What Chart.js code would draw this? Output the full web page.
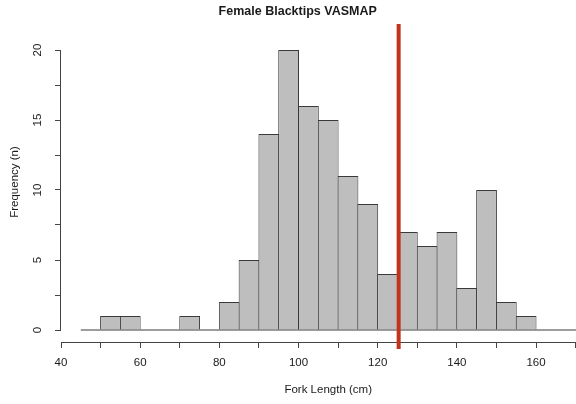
<!DOCTYPE html>
<html><head><meta charset="utf-8">
<script src="https://cdn.jsdelivr.net/npm/chart.js@4"></script>
<style>html,body{margin:0;padding:0;background:#fff}#wrap{width:576px;height:404px;position:relative}</style>
</head><body><div id="wrap"><canvas id="c" width="576" height="404"></canvas></div>
<script>
// ---- data ----
const binStarts = [50,55,60,65,70,75,80,85,90,95,100,105,110,115,120,125,130,135,140,145,150,155];
const counts    = [1, 1, 0, 0, 1, 0, 2, 5, 14,20,16, 15, 11, 9, 4, 7, 6, 7, 3, 10, 2, 1];
const binWidth = 5;
const markerValue = 125.3;           // red vertical line (Fork Length, cm)
const xTicks = [40,50,60,70,80,90,100,110,120,130,140,150,160,170];
const xTickLabels = [40,60,80,100,120,140,160];
const yTicks = [0,2.5,5,7.5,10,12.5,15,17.5,20];
const yTickLabels = [0,5,10,15,20];
const titleText = 'Female Blacktips VASMAP';
const xTitle = 'Fork Length (cm)';
const yTitle = 'Frequency (n)';

const FONT = "'Liberation Sans', Arial, Helvetica, sans-serif";
const TXT = '#1a1a1a';
const AX = '#444';

const barData = binStarts.map((s,i)=>({x: s + binWidth/2, y: counts[i]}));
const baseData = [{x: binStarts[0] - binWidth, y: 0}, {x: 180, y: 0}];
const markerData = [{x: markerValue, y: -1.36}, {x: markerValue, y: 21.86}];

const rAxisExtras = {
  id: 'rAxisExtras',
  afterDraw(chart){
    const {ctx} = chart; const y = chart.scales.y; const x = chart.scales.x;
    ctx.save();
    // R-style y axis line spanning the tick range only
    const xp = Math.round(y.right) - 0.5;
    ctx.strokeStyle = AX; ctx.lineWidth = 1;
    ctx.beginPath();
    ctx.moveTo(xp, Math.round(y.getPixelForValue(yTicks[0])) + 0.5);
    ctx.lineTo(xp, Math.round(y.getPixelForValue(yTicks[yTicks.length-1])) + 0.5);
    ctx.stroke();
    // x axis title, centred on the full plotting range (R plot region extends past the crop)
    ctx.fillStyle = TXT;
    ctx.font = "11.5px " + FONT;
    ctx.textAlign = 'center'; ctx.textBaseline = 'middle';
    ctx.fillText(xTitle, x.getPixelForValue(107.5), 390);
    ctx.restore();
  }
};

new Chart(document.getElementById('c'), {
  type: 'bar',
  data: {
    datasets: [
      { type:'bar', data: barData, backgroundColor:'#bebebe', borderColor:'#3a3a3a', borderWidth:1,
        barPercentage:1.05, categoryPercentage:1, order:2 },
      { type:'line', data: baseData, borderColor:'#3a3a3a', borderWidth:1, pointRadius:0, order:1, clip:false },
      { type:'line', data: markerData, borderColor:'#c3321f', borderWidth:4, pointRadius:0, order:0, clip:false }
    ]
  },
  options: {
    responsive:false, animation:false, devicePixelRatio:1,
    layout:{ padding:{ left:0, right:-19.4, top:0, bottom:0 } },
    plugins:{
      legend:{display:false}, tooltip:{enabled:false},
      title:{ display:true, text:titleText, color:TXT,
        font:{family:FONT, size:12.5, weight:'bold', lineHeight:1.2}, padding:{top:4,bottom:3} }
    },
    scales:{
      x:{ type:'linear', min:40, max:170.1, position:'bottom', offset:false,
        afterBuildTicks: s => { s.ticks = xTicks.map(v=>({value:v})); },
        afterFit: s => { s.height = 62; s.paddingLeft = 0; s.paddingRight = 0; },
        grid:{ offset:false, drawOnChartArea:false, drawTicks:true, tickLength:6, color:AX },
        border:{ display:true, color:AX, width:1 },
        ticks:{ autoSkip:false, maxRotation:0, padding:8, color:TXT, font:{family:FONT, size:11.5},
          callback: v => xTickLabels.includes(v) ? String(v) : '' },
        title:{ display:false }
      },
      y:{ type:'linear', min:-12/14, max:22, position:'left',
        afterBuildTicks: s => { s.ticks = yTicks.map(v=>({value:v})); },
        afterFit: s => { s.width = 61; s.paddingTop = 0; s.paddingBottom = 0; },
        grid:{ drawOnChartArea:false, drawTicks:true, tickLength:6, color:AX },
        border:{ display:false },
        ticks:{ autoSkip:false, minRotation:90, maxRotation:90, crossAlign:'center', padding:11,
          color:TXT, font:{family:FONT, size:11.5},
          callback: v => yTickLabels.includes(v) ? String(v) : '' },
        title:{ display:true, text:yTitle, color:TXT, font:{family:FONT, size:11.5}, padding:{top:8,bottom:0} }
      }
    }
  },
  plugins:[rAxisExtras]
});
</script></body></html>
